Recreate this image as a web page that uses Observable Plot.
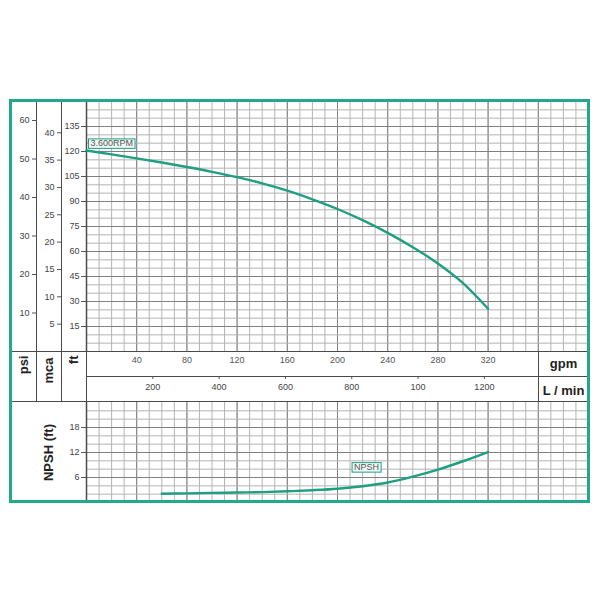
<!DOCTYPE html>
<html>
<head>
<meta charset="utf-8">
<script src="https://cdn.jsdelivr.net/npm/d3@7"></script>
<script src="https://cdn.jsdelivr.net/npm/@observablehq/plot@0.6"></script>
<style>
  body { margin: 0; background: #fff; }
  #chart { position: relative; width: 600px; height: 600px; background: #fff;
           font-family: "Liberation Sans", Arial, sans-serif; }
  #chart svg { position: absolute; left: 0; overflow: visible; }
  .ln { position: absolute; background: #4a4a4a; }
  #frame { position: absolute; left: 9px; top: 99px; width: 581px; height: 404px;
           box-sizing: border-box; border: 3px solid #22a98a; pointer-events: none; }
</style>
</head>
<body>
<div id="chart"></div>
<script>
// ---------- data ----------
const gpmTicks   = [40, 80, 120, 160, 200, 240, 280, 320];
const lminTicks  = [200, 400, 600, 800, 1000, 1200];
const lminLabels = ["200", "400", "600", "800", "100", "1200"];
const ftTicks    = [15, 30, 45, 60, 75, 90, 105, 120, 135];
const mcaTicks   = [5, 10, 15, 20, 25, 30, 35, 40];
const psiTicks   = [10, 20, 30, 40, 50, 60];
const npshTicks  = [6, 12, 18];

const headGpm = [0, 20, 40, 60, 80, 100, 120, 140, 160, 180, 200, 220, 240, 260, 280, 300, 320];
const headFt  = [120.6, 118.3, 115.9, 113.4, 110.7, 107.8, 104.6, 100.9, 96.5, 91.3, 85.5, 78.8, 71.2, 62.6, 52.8, 41.0, 25.6];

const npshGpm = [60, 80, 100, 120, 140, 160, 180, 200, 220, 240, 260, 280, 300, 320];
const npshFt  = [2.1, 2.2, 2.3, 2.4, 2.5, 2.7, 2.95, 3.3, 3.9, 4.8, 6.2, 7.9, 9.9, 12.1];

const rpmLabel  = "3.600RPM";
const npshLabel = "NPSH";
const unitLeft  = ["psi", "mca", "ft"];
const unitRight = ["gpm", "L / min"];
const npshAxisLabel = "NPSH (ft)";

// unit conversions
const FT_PER_PSI = 2.31, FT_PER_MCA = 3.281, LMIN_PER_GPM = 3.785;

const head = headGpm.map((g, i) => ({gpm: g, ft: headFt[i]}));
const npsh = npshGpm.map((g, i) => ({gpm: g, ft: npshFt[i]}));

// ---------- style ----------
const TEAL = "#1e9f82";
const MINOR = "#b4b4b4", MAJOR = "#808080";
const FONT = "'Liberation Sans', Arial, sans-serif";
const X_DOMAIN = [0, 400];
const minorX = d3.range(10, 400, 10), majorX = d3.range(40, 400, 40);
const baseStyle = {fontFamily: FONT, fontSize: "9px", color: "#444", background: "transparent", overflow: "visible"};
const boldLabel = {fontWeight: "bold", fontSize: 13, fill: "#222", lineAnchor: "middle"};

const chart = document.getElementById("chart");
function place(svg, top) {
  svg.style.top = top + "px";
  chart.appendChild(svg);
  return svg;
}

// ---------- top panel: head curve ----------
const topPlot = Plot.plot({
  width: 600, height: 352,
  marginLeft: 86, marginRight: 12, marginTop: 101, marginBottom: 1,
  x: {domain: X_DOMAIN, axis: null},
  y: {domain: [0, 150]},
  style: baseStyle,
  marks: [
    Plot.ruleX(minorX, {stroke: MINOR, strokeWidth: 1}),
    Plot.ruleX(majorX, {stroke: MAJOR, strokeWidth: 1}),
    Plot.ruleY(d3.range(5, 150, 5), {stroke: MINOR, strokeWidth: 1}),
    Plot.ruleY(d3.range(15, 150, 15), {stroke: MAJOR, strokeWidth: 1}),
    Plot.axisY(ftTicks, {anchor: "left", tickSize: 5, tickPadding: 2, label: null, stroke: "#555"}),
    Plot.axisY(mcaTicks.map(v => v * FT_PER_MCA), {anchor: "left", dx: -25, tickSize: 4, tickPadding: 3, label: null, stroke: "#555",
      tickFormat: d => String(Math.round(d / FT_PER_MCA))}),
    Plot.axisY(psiTicks.map(v => v * FT_PER_PSI), {anchor: "left", dx: -50, tickSize: 4, tickPadding: 3, label: null, stroke: "#555",
      tickFormat: d => String(Math.round(d / FT_PER_PSI))}),
    Plot.ruleX([0], {stroke: "#4a4a4a", strokeWidth: 1.5}),
    Plot.line(head, {x: "gpm", y: "ft", stroke: TEAL, strokeWidth: 2.4, curve: "monotone-x"}),
    Plot.text([head[0]], {x: "gpm", y: "ft", text: () => rpmLabel, textAnchor: "start", dx: 4, dy: -7,
      fontSize: 9, fill: "#555"})
  ]
});
place(topPlot, 0);

// ---------- middle band: x axes ----------
const bandPlot = Plot.plot({
  width: 600, height: 51,
  marginLeft: 86, marginRight: 12, marginTop: 0, marginBottom: 26,
  x: {domain: X_DOMAIN},
  style: baseStyle,
  marks: [
    Plot.text(gpmTicks, {x: d => d, frameAnchor: "top", dy: 9, lineAnchor: "middle", text: d => String(d), fontSize: 9, fill: "#555"}),
    Plot.axisX(lminTicks.map(v => v / LMIN_PER_GPM), {anchor: "bottom", tickSize: 3, tickPadding: 4, label: null, stroke: "#555",
      tickFormat: d => lminLabels[lminTicks.indexOf(Math.round(d * LMIN_PER_GPM))]}),
    Plot.text([unitLeft[0]], {frameAnchor: "top-left", dx: -63, dy: 4, rotate: -90, textAnchor: "end", ...boldLabel}),
    Plot.text([unitLeft[1]], {frameAnchor: "top-left", dx: -37.5, dy: 6, rotate: -90, textAnchor: "end", ...boldLabel}),
    Plot.text([unitLeft[2]], {frameAnchor: "top-left", dx: -12.5, dy: 4, rotate: -90, textAnchor: "end", ...boldLabel}),
    Plot.text([unitRight[0]], {frameAnchor: "top-right", dx: -25, dy: 12, textAnchor: "middle", ...boldLabel}),
    Plot.text([unitRight[1]], {frameAnchor: "top-right", dx: -25, dy: 39, textAnchor: "middle", ...boldLabel})
  ]
});
place(bandPlot, 351);

// ---------- bottom panel: NPSH ----------
const lowPlot = Plot.plot({
  width: 600, height: 101,
  marginLeft: 86, marginRight: 12, marginTop: 1, marginBottom: 0,
  x: {domain: X_DOMAIN, axis: null},
  y: {domain: [0, 24]},
  style: baseStyle,
  marks: [
    Plot.ruleX(minorX, {stroke: MINOR, strokeWidth: 1}),
    Plot.ruleX(majorX, {stroke: MAJOR, strokeWidth: 1}),
    Plot.ruleY(d3.range(2, 24, 2), {stroke: MINOR, strokeWidth: 1}),
    Plot.ruleY(npshTicks, {stroke: MAJOR, strokeWidth: 1}),
    Plot.axisY(npshTicks, {anchor: "left", tickSize: 5, tickPadding: 2, label: null, stroke: "#555"}),
    Plot.ruleX([0], {stroke: "#4a4a4a", strokeWidth: 1.5}),
    Plot.text([npshAxisLabel], {frameAnchor: "left", dx: -38, rotate: -90, textAnchor: "middle", ...boldLabel}),
    Plot.line(npsh, {x: "gpm", y: "ft", stroke: TEAL, strokeWidth: 2.4, curve: "monotone-x"}),
    Plot.text([npsh[8]], {x: "gpm", y: "ft", text: () => npshLabel, dx: 4, dy: -19,
      fontSize: 9, fill: "#555"})
  ]
});
place(lowPlot, 401);

// ---------- table lines ----------
function line(l, t, w, h) {
  const d = document.createElement("div");
  d.className = "ln";
  Object.assign(d.style, {left: l + "px", top: t + "px", width: w + "px", height: h + "px"});
  chart.appendChild(d);
}
line(35.5, 100, 1.5, 301);   // psi | mca
line(60.5, 100, 1.5, 301);   // mca | ft
line(85.5, 351, 1.5, 50);    // ft | axis (band)
line(537.5, 351, 1.5, 50);   // axis | units
line(10, 350.5, 579, 1.5);   // band top
line(86, 375.5, 503, 1.5);   // band middle
line(10, 400.5, 579, 1.5);   // band bottom

const frame = document.createElement("div");
frame.id = "frame";
chart.appendChild(frame);

// ---------- boxes round curve labels ----------
chart.querySelectorAll("svg text").forEach(t => {
  const s = t.textContent;
  if (s !== rpmLabel && s !== npshLabel) return;
  const bb = t.getBBox();
  const r = document.createElementNS("http://www.w3.org/2000/svg", "rect");
  r.setAttribute("x", bb.x - 2);
  r.setAttribute("y", bb.y + 0.5);
  r.setAttribute("width", bb.width + 4);
  r.setAttribute("height", bb.height - 0.5);
  r.setAttribute("fill", "#eef9f5");
  r.setAttribute("stroke", TEAL);
  r.setAttribute("stroke-width", 1);
  const tr = t.getAttribute("transform");
  if (tr) r.setAttribute("transform", tr);
  t.parentNode.insertBefore(r, t);
});
</script>
</body>
</html>
